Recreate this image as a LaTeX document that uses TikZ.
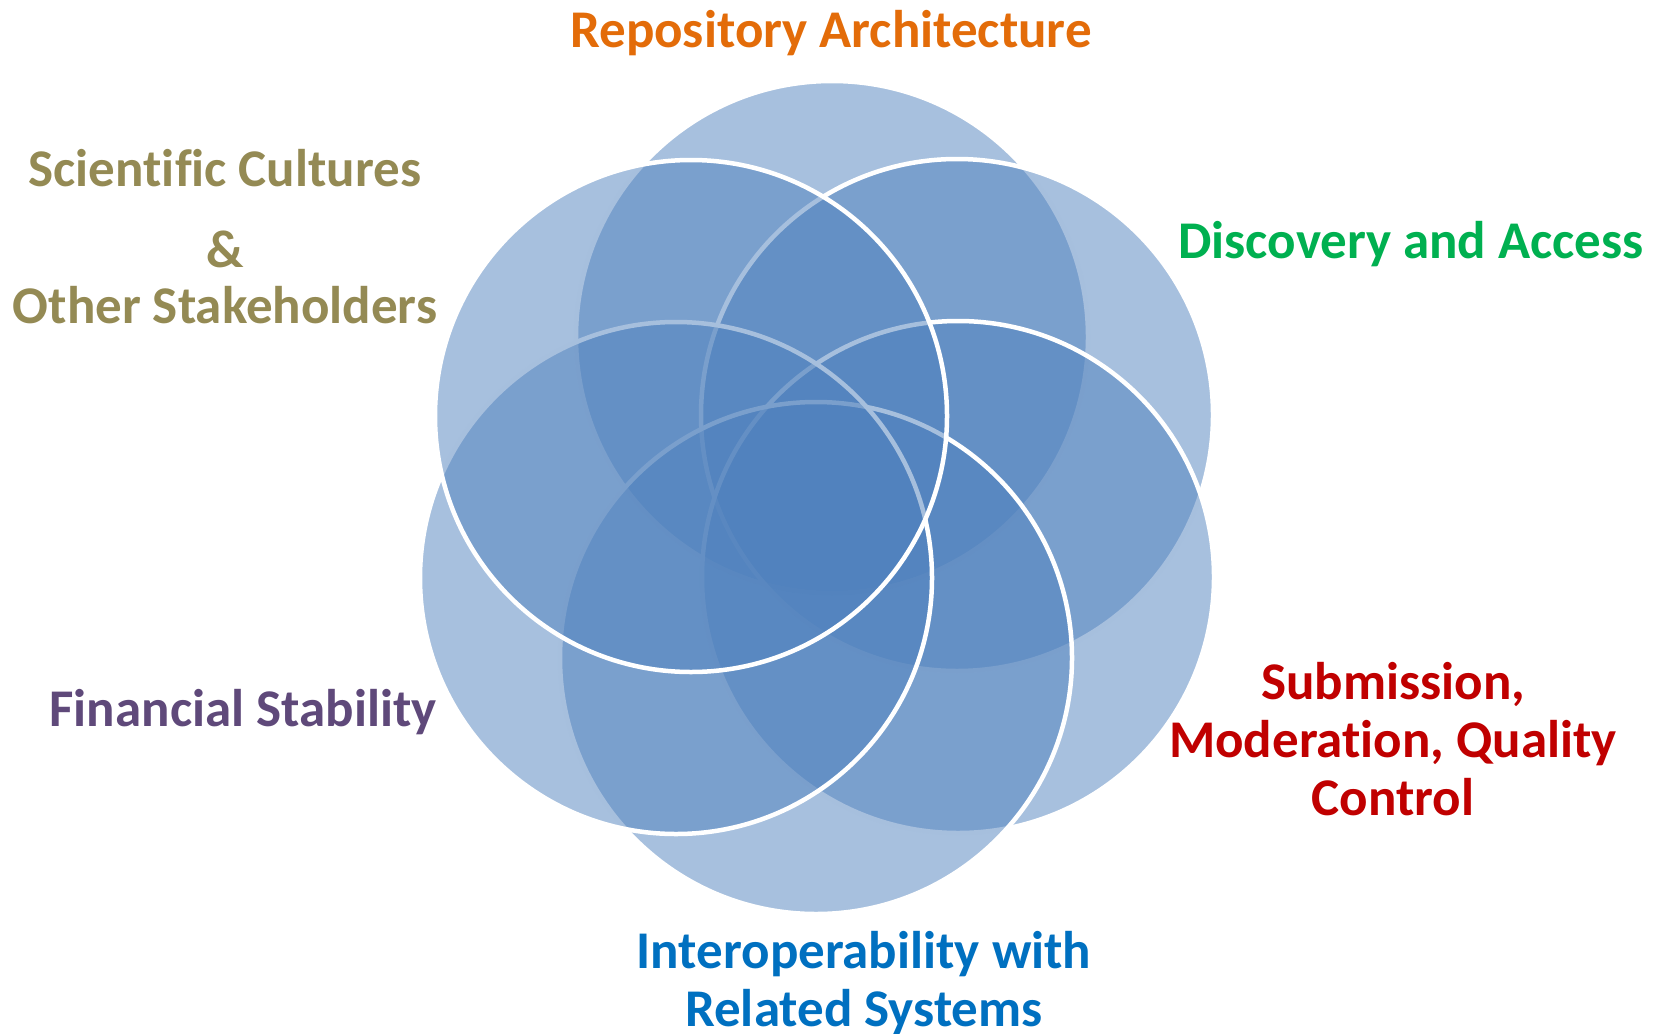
\documentclass[tikz,border=0pt]{standalone}
\usepackage{fontspec}
\setmainfont{Carlito}[Ligatures={NoCommon}]
\definecolor{vennblue}{HTML}{4F81BD}
\definecolor{txtorange}{HTML}{E36C09}
\definecolor{txtolive}{HTML}{948A54}
\definecolor{txtgreen}{HTML}{00B050}
\definecolor{txtred}{HTML}{C00000}
\definecolor{txtpurple}{HTML}{5F497A}
\definecolor{txtblue}{HTML}{0070C0}
\tikzset{
  venn/.style={fill=vennblue, fill opacity=0.5, draw=white, draw opacity=1, line width=4.5pt},
  lbl/.style={inner sep=0pt, font=\fontsize{53}{58}\selectfont\bfseries, align=center},
}
\begin{document}
\begin{tikzpicture}[x=1pt,y=-1pt]
\useasboundingbox (0,0) rectangle (1664,1033);
% circles in drawing order
\path[venn] (832,337) circle[radius=256];
\path[venn] (957,415) circle[radius=256];
\path[venn] (958,577) circle[radius=256];
\path[venn] (816,658) circle[radius=256];
\path[venn] (676,578) circle[radius=256];
\path[venn] (691,416) circle[radius=256];
% labels
\node[lbl, text=txtorange, anchor=base] (repo) at (831,48) {Repository Architecture};
\node[lbl, text=txtolive, anchor=north, font=\fontsize{53}{56}\selectfont\bfseries] (sci) at (225,149) {Scientific Cultures\\[25pt]\&\\Other Stakeholders};
\node[lbl, text=txtgreen, anchor=base] (disc) at (1411,258) {Discovery and Access};
\node[lbl, text=txtpurple, anchor=base] (fin) at (243,726) {Financial Stability};
\node[lbl, text=txtred, anchor=north] (sub) at (1393,662) {Submission,\\Moderation, Quality\\Control};
\node[lbl, text=txtblue, anchor=north] (inter) at (864,931) {Interoperability with\\Related Systems};
\end{tikzpicture}
\end{document}
